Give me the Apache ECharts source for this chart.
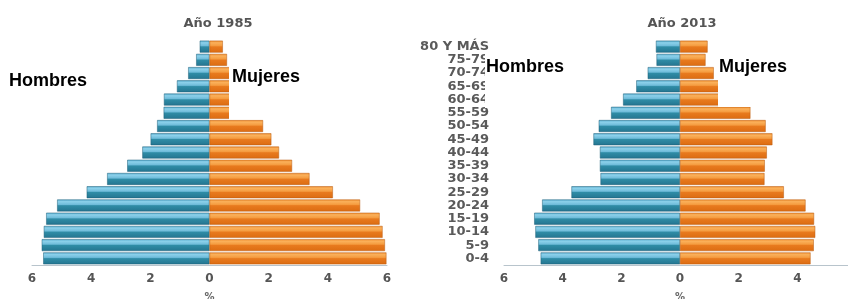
<!DOCTYPE html>
<html><head><meta charset="utf-8">
<script src="https://cdn.jsdelivr.net/npm/echarts@6/dist/echarts.min.js"></script>
<style>html,body{margin:0;padding:0;background:#fff}#c{width:848px;height:299px}</style>
</head><body><div id="c"></div>
<script>
// categories from top to bottom
const ageGroups = ['80 Y MÁS','75-79','70-74','65-69','60-64','55-59','50-54','45-49','40-44','35-39','30-34','25-29','20-24','15-19','10-14','5-9','0-4'];
const men1985   = [0.33,0.45,0.72,1.1,1.54,1.55,1.77,1.99,2.27,2.78,3.46,4.15,5.15,5.52,5.6,5.67,5.62];
const women1985 = [0.45,0.59,0.85,1.15,1.5,1.6,1.81,2.09,2.35,2.79,3.38,4.17,5.09,5.75,5.85,5.93,5.98];
const men2013   = [0.82,0.8,1.1,1.49,1.94,2.35,2.77,2.95,2.73,2.73,2.71,3.7,4.7,4.97,4.93,4.83,4.75];
const women2013 = [0.94,0.87,1.15,1.45,1.9,2.4,2.92,3.15,2.96,2.89,2.88,3.54,4.28,4.57,4.61,4.56,4.45];
const xTicks = [-6,-4,-2,0,2,4,6];
const titles = ['Año 1985','Año 2013'];

const cats = ageGroups.slice().reverse();
const rev = a => a.slice().reverse();
const blueGrad = new echarts.graphic.LinearGradient(0,0,0,1,[
  {offset:0,color:'#5aaed0'},{offset:0.18,color:'#8bd0ea'},{offset:0.42,color:'#6fbcda'},{offset:0.52,color:'#2f8ca6'},{offset:1,color:'#247590'}]);
const orangeGrad = new echarts.graphic.LinearGradient(0,0,0,1,[
  {offset:0,color:'#f08e30'},{offset:0.18,color:'#fab05a'},{offset:0.42,color:'#f59c40'},{offset:0.52,color:'#e87a1e'},{offset:1,color:'#dc6c12'}]);

const chart = echarts.init(document.getElementById('c'), null, {renderer:'canvas'});
const grids = [
  {left:32, width:355, top:40, height:225, outerBoundsMode:'none', containLabel:false},
  {left:504, width:352, top:40, height:225, outerBoundsMode:'none', containLabel:false}
];
function xAxisFor(i){
  return {type:'value', gridIndex:i, min:xTicks[0], max:xTicks[xTicks.length-1], interval:2,
    name:'%', nameLocation:'middle', nameGap:27,
    nameTextStyle:{color:'#666', fontSize:10, fontFamily:'DejaVu Sans', fontWeight:'bold'},
    axisLine:{show:true, onZero:false, lineStyle:{color:'#b8c4cc', width:1}},
    axisTick:{show:false}, splitLine:{show:false},
    axisLabel:{formatter:v=>Math.abs(v), color:'#555', fontSize:12, fontWeight:'bold', fontFamily:'DejaVu Sans', margin:8}};
}
function yAxisFor(i, showLabels){
  return {type:'category', gridIndex:i, data:cats,
    axisLine:{show:false, onZero:false}, axisTick:{show:false},
    axisLabel:{show:showLabels, interval:0, color:'#5a5a5a', fontSize:13, fontWeight:'bold', fontFamily:'DejaVu Sans', margin:15, lineHeight:12}};
}
function barSeries(data, idx, grad, sign){
  return {type:'bar', xAxisIndex:idx, yAxisIndex:idx, data:data.map(v=>sign*v),
    barGap:'-100%', barCategoryGap:'10%', itemStyle:{color:grad, borderColor:sign<0?'#1d5f78':'#b85a0e', borderWidth:0.5},
    silent:true, animation:false};
}
chart.setOption({
  animation:false,
  title:[
    {text:titles[0], left:213, top:12, textAlign:'center', textStyle:{color:'#555', fontSize:13, fontWeight:'bold', fontFamily:'DejaVu Sans'}},
    {text:titles[1], left:677, top:12, textAlign:'center', textStyle:{color:'#555', fontSize:13, fontWeight:'bold', fontFamily:'DejaVu Sans'}}
  ],
  grid:grids,
  xAxis:[xAxisFor(0), xAxisFor(1)],
  yAxis:[yAxisFor(0,false), yAxisFor(1,true)],
  series:[
    barSeries(rev(men1985),0,blueGrad,-1),
    barSeries(rev(women1985),0,orangeGrad,1),
    barSeries(rev(men2013),1,blueGrad,-1),
    barSeries(rev(women2013),1,orangeGrad,1)
  ],
  graphic:[
    {type:'rect', left:229, top:60, shape:{width:85, height:59.5}, style:{fill:'#fff'}, z:100},
    {type:'rect', left:485, top:54, shape:{width:95, height:54}, style:{fill:'#fff'}, z:100},
    {type:'rect', left:718, top:54, shape:{width:90, height:53}, style:{fill:'#fff'}, z:100},
    {type:'text', x:9, y:81, style:{text:'Hombres', fill:'#000', font:'bold 18px "Liberation Sans", Arial', textVerticalAlign:'middle'}, z:101},
    {type:'text', x:232, y:77, style:{text:'Mujeres', fill:'#000', font:'bold 18px "Liberation Sans", Arial', textVerticalAlign:'middle'}, z:101},
    {type:'text', x:486, y:67, style:{text:'Hombres', fill:'#000', font:'bold 18px "Liberation Sans", Arial', textVerticalAlign:'middle'}, z:101},
    {type:'text', x:719, y:67, style:{text:'Mujeres', fill:'#000', font:'bold 18px "Liberation Sans", Arial', textVerticalAlign:'middle'}, z:101}
  ]
});
</script></body></html>
